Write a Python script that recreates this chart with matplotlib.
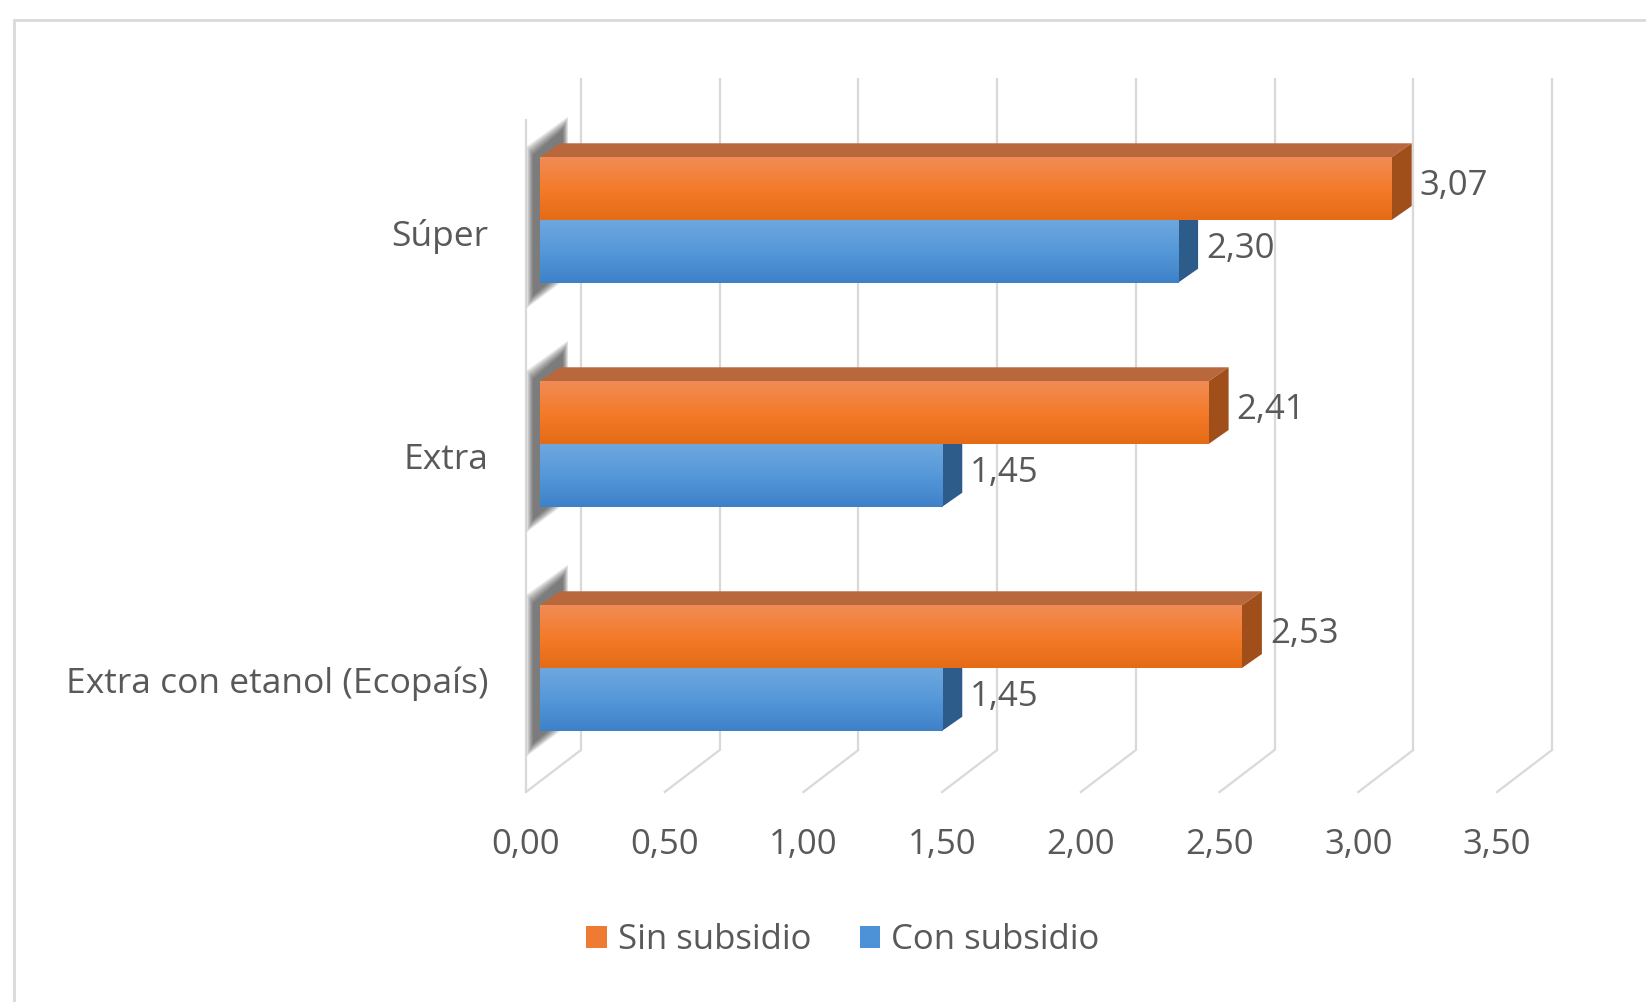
import numpy as np
import matplotlib
matplotlib.use("Agg")
import matplotlib.pyplot as plt
from matplotlib.patches import Polygon, Rectangle, Patch
from matplotlib.colors import LinearSegmentedColormap

# ── data ────────────────────────────────────────────────────────────────
categories = ["Súper", "Extra", "Extra con etanol (Ecopaís)"]
sin_subsidio = [3.07, 2.41, 2.53]
con_subsidio = [2.30, 1.45, 1.45]
series_names = ["Sin subsidio", "Con subsidio"]
x_ticks = [0.0, 0.5, 1.0, 1.5, 2.0, 2.5, 3.0, 3.5]


def fmt(v):
    return f"{v:.2f}".replace(".", ",")


plt.rcParams["font.family"] = ["Open Sans", "DejaVu Sans"]
TEXT = "#595959"
GRID = "#d9d9d9"
FS = 25

orange_front = LinearSegmentedColormap.from_list("of", ["#f08c55", "#f47b2a", "#e56b16"])
blue_front = LinearSegmentedColormap.from_list("bf", ["#6ea7de", "#5598d9", "#3e81c7"])
styles = {
    "orange": dict(cmap=orange_front, top="#b9683d", side="#a04e1a", legend="#ee7a33"),
    "blue": dict(cmap=blue_front, top="#3b6fa5", side="#2d5b8a", legend="#4d91d6"),
}

fig = plt.figure(figsize=(16.46, 10.02), dpi=100)
ax = fig.add_axes([526 / 1646, 1 - 792 / 1002, 971 / 1646, 672 / 1002])
XLIM, YLIM = (0, 3.5), (2.5, -0.5)
ax.set_xlim(*XLIM)
ax.set_ylim(*YLIM)
for s in ax.spines.values():
    s.set_visible(False)
ax.patch.set_visible(False)


def off(dx_px, dy_px):
    """pixel offset (right, up) -> data offset"""
    p0 = ax.transData.transform((0, 0))
    q = ax.transData.inverted().transform(p0 + np.array([dx_px, dy_px]))
    return q[0], q[1]


def shift(x, y, dx_px, dy_px):
    ox, oy = off(dx_px, dy_px)
    return (x + ox, y + oy)


wdx, wdy = off(55, 42)     # depth of the whole plot box
fdx, fdy = off(14, 12)     # where the bar front faces sit
bdx, bdy = off(20, 14)     # bar depth
h = 0.28                   # bar thickness

# ── walls / floor grid ────────────────────────────────────────────────
for t in x_ticks:
    ax.plot([t + wdx, t + wdx], [YLIM[0] + wdy, YLIM[1] + wdy], color=GRID, lw=1.6,
            zorder=0.5, clip_on=False, solid_capstyle="butt")
    ax.plot([t, t + wdx], [YLIM[0], YLIM[0] + wdy], color=GRID, lw=1.6,
            zorder=0.5, clip_on=False)
ax.plot([0, 0], [YLIM[0], YLIM[1]], color=GRID, lw=1.6, zorder=0.5, clip_on=False)

# ── bars ──────────────────────────────────────────────────────────────
z = 2
for i, cat in enumerate(categories):
    g_top = i - h + fdy
    g_bot = i + h + fdy
    # blurred shadow of the bar ends on the side wall
    n_layers = 8
    for k in range(n_layers):
        e = (n_layers - 1 - k) * 1.8
        poly = [shift(fdx, g_top, -7 - e * 0.5, 2 + e * 0.7),
                shift(fdx + bdx, g_top + bdy, 3 + e * 0.4, 14 + e),
                shift(fdx + bdx, g_bot + bdy, 3 + e * 0.4, -2 - e * 0.5),
                shift(fdx, g_bot, -7 - e * 0.5, -13 - e)]
        ax.add_patch(Polygon(poly, closed=True, facecolor="#2b2b2b", alpha=0.11,
                             edgecolor="none", zorder=1.5, clip_on=False))

    for val, yc, key in [(con_subsidio[i], i + h / 2, "blue"),
                         (sin_subsidio[i], i - h / 2, "orange")]:
        st = styles[key]
        y0 = yc + fdy
        ytop, ybot = y0 - h / 2, y0 + h / 2
        x0, x1 = fdx, fdx + val
        ax.add_patch(Polygon([(x0, ytop), (x1, ytop), (x1 + bdx, ytop + bdy), (x0 + bdx, ytop + bdy)],
                             closed=True, facecolor=st["top"], edgecolor="none", zorder=z, clip_on=False))
        ax.add_patch(Polygon([(x1, ytop), (x1, ybot), (x1 + bdx, ybot + bdy), (x1 + bdx, ytop + bdy)],
                             closed=True, facecolor=st["side"], edgecolor="none", zorder=z + 0.1, clip_on=False))
        bar = ax.barh(y0, val, height=h, left=x0, color=st["cmap"](0.5), zorder=z + 0.2)[0]
        grad = np.linspace(0, 1, 64).reshape(-1, 1)
        im = ax.imshow(grad, cmap=st["cmap"], extent=[x0, x1, ybot, ytop], origin="upper",
                       aspect="auto", zorder=z + 0.3, interpolation="bilinear")
        im.set_clip_path(bar)
        lx, _ = off(8, 0)
        ax.text(x1 + bdx + lx, y0 - 0.01, fmt(val), ha="left", va="center",
                fontsize=FS, color=TEXT, zorder=10, clip_on=False)
        z += 1

ax.set_xlim(*XLIM)
ax.set_ylim(*YLIM)

# ── axes labels ───────────────────────────────────────────────────────
ax.set_xticks(x_ticks, [fmt(t) for t in x_ticks])
ax.set_yticks(range(len(categories)), categories)
ax.tick_params(axis="x", length=0, pad=26, labelsize=FS, labelcolor=TEXT)
ax.tick_params(axis="y", length=0, pad=27, labelsize=FS, labelcolor=TEXT)
for lbl in ax.get_yticklabels():
    lbl.set_fontsize(25.5)

# ── legend ────────────────────────────────────────────────────────────
handles = [Patch(facecolor=styles["orange"]["legend"]), Patch(facecolor=styles["blue"]["legend"])]
fig.legend(handles, series_names, loc="center", bbox_to_anchor=(0.512, 0.062), ncol=2,
           frameon=False, fontsize=FS, labelcolor=TEXT, handlelength=0.6, handleheight=0.6,
           handletextpad=0.3, columnspacing=1.4)

# chart frame
fig.add_artist(Rectangle((14 / 1646, -0.1), 2, 1 - 20 / 1002 + 0.1, transform=fig.transFigure,
                         fill=False, edgecolor=GRID, lw=2))

fig.savefig("out.png", dpi=100)
